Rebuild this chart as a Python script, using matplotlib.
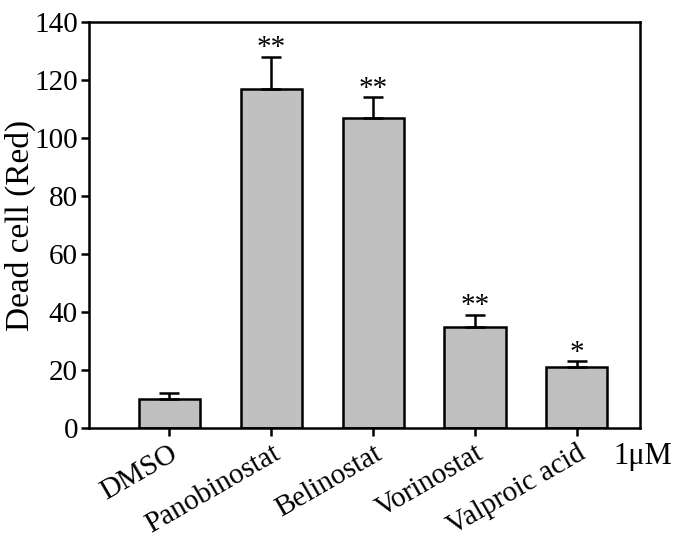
import numpy as np
import matplotlib.pyplot as plt

plt.rcParams["font.family"] = ["Liberation Serif", "DejaVu Serif"]

groups = ["DMSO", "Panobinostat", "Belinostat", "Vorinostat", "Valproic acid"]
dead = [10, 117, 107, 35, 21]
err = [2, 11, 7, 4, 2]
stars = ["", "**", "**", "**", "*"]

fig = plt.figure(figsize=(6.74, 5.42), dpi=100)
ax = fig.add_axes([89 / 674, 1 - 428 / 542, (640 - 89) / 674, (428 - 22) / 542])

x = np.arange(len(groups))
ax.bar(x, dead, width=0.6, color="#c0c0c0", edgecolor="black", linewidth=1.8,
       yerr=[np.zeros(len(err)), err], capsize=7,
       error_kw=dict(elinewidth=1.8, capthick=1.8, ecolor="black"))
for xi, v, e, s in zip(x, dead, err, stars):
    if s:
        ax.text(xi, v + e - 1.5, s, ha="center", va="bottom", fontsize=21)

ax.set_xlim(-0.79, 4.62)
ax.set_ylim(0, 140)
ax.set_yticks(np.arange(0, 141, 20))
ax.set_xticks(x)
ax.set_xticklabels(groups, rotation=30, ha="right", rotation_mode="anchor", fontsize=21)
ax.tick_params(axis="y", labelsize=21, width=1.8, length=6, pad=2)
ax.tick_params(axis="x", width=1.8, length=6, pad=3)
for sp in ax.spines.values():
    sp.set_linewidth(1.8)
ax.set_ylabel("Dead cell (Red)", fontsize=24, labelpad=-1)
ax.text(0.951, -0.034, "1μM", transform=ax.transAxes, ha="left", va="top", fontsize=22)

plt.savefig("out.png", dpi=100)
